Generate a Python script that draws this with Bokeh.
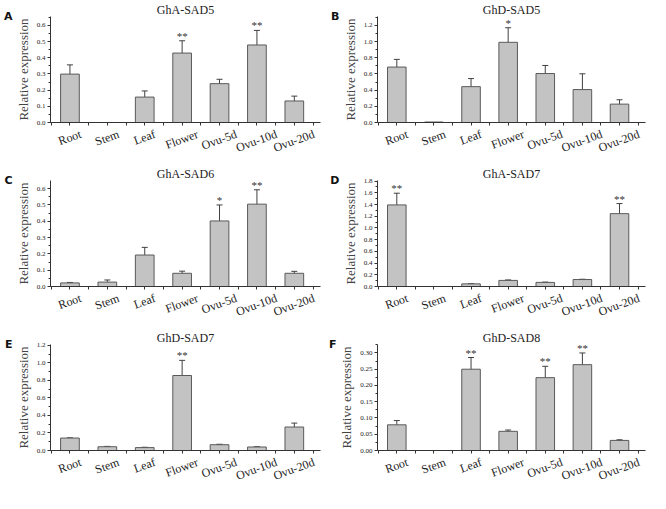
import math
from bokeh.plotting import figure
from bokeh.layouts import gridplot
from bokeh.models import (ColumnDataSource, Whisker, TeeHead, FixedTicker, LinearAxis,
                          SingleIntervalTicker, NumeralTickFormatter, Title, Range1d)
from bokeh.embed import file_html
from bokeh.resources import INLINE
from bokeh.core.properties import value

tissues = ["Root", "Stem", "Leaf", "Flower", "Ovu-5d", "Ovu-10d", "Ovu-20d"]

# A  GhA-SAD5
a_mean = [0.299, 0.0, 0.157, 0.429, 0.240, 0.479, 0.133]
a_err = [0.057, 0.0, 0.038, 0.076, 0.027, 0.090, 0.030]
a_sig = ["", "", "", "**", "", "**", ""]
# B  GhD-SAD5
b_mean = [0.685, 0.006, 0.443, 0.991, 0.605, 0.407, 0.227]
b_err = [0.095, 0.0, 0.100, 0.180, 0.100, 0.195, 0.054]
b_sig = ["", "", "", "*", "", "", ""]
# C  GhA-SAD6
c_mean = [0.022, 0.027, 0.193, 0.081, 0.402, 0.505, 0.081]
c_err = [0.003, 0.013, 0.047, 0.013, 0.098, 0.088, 0.012]
c_sig = ["", "", "", "", "*", "**", ""]
# D  GhA-SAD7
d_mean = [1.393, 0.0, 0.045, 0.104, 0.070, 0.119, 1.244]
d_err = [0.200, 0.0, 0.005, 0.008, 0.005, 0.005, 0.172]
d_sig = ["**", "", "", "", "", "", "**"]
# E  GhD-SAD7
e_mean = [0.142, 0.043, 0.033, 0.856, 0.066, 0.040, 0.268]
e_err = [0.002, 0.004, 0.004, 0.173, 0.005, 0.002, 0.045]
e_sig = ["", "", "", "**", "", "", ""]
# F  GhD-SAD8
f_mean = [0.079, 0.0, 0.250, 0.059, 0.224, 0.264, 0.031]
f_err = [0.013, 0.0, 0.036, 0.004, 0.035, 0.036, 0.002]
f_sig = ["", "", "**", "", "**", "**", ""]

panels = [
    ("A", "GhA-SAD5", a_mean, a_err, a_sig, 0.655, 0.1, "0.0"),
    ("B", "GhD-SAD5", b_mean, b_err, b_sig, 1.31, 0.2, "0.0"),
    ("C", "GhA-SAD6", c_mean, c_err, c_sig, 0.65, 0.1, "0.0"),
    ("D", "GhA-SAD7", d_mean, d_err, d_sig, 1.81, 0.2, "0.0"),
    ("E", "GhD-SAD7", e_mean, e_err, e_sig, 1.21, 0.2, "0.0"),
    ("F", "GhD-SAD8", f_mean, f_err, f_sig, 0.326, 0.05, "0.00"),
]

SERIF = "Liberation Serif"
AX = "#333333"
XMIN, XMAX = -0.52, 6.7
ANGLE = 0.35
LABEL_PX = 12
# Times/Liberation Serif advance widths (1/1000 em), used to centre the
# rotated category labels under their bars (Bokeh right-aligns them).
CW = {"R": 667, "o": 500, "t": 278, "S": 556, "e": 444, "m": 778, "L": 611,
      "a": 444, "f": 333, "F": 556, "l": 278, "w": 722, "r": 333, "O": 722,
      "v": 500, "u": 500, "-": 333, "d": 500}


def text_w(s):
    return sum(CW.get(c, 500) for c in s) / 1000.0 * LABEL_PX


def make_panel(letter, title, mean, err, sig, ymax, step, fmt):
    xs = list(range(len(tissues)))
    p = figure(width=325, height=164, output_backend="svg", toolbar_location=None,
               x_range=Range1d(XMIN, XMAX), y_range=Range1d(0, ymax),
               min_border_left=0, min_border_right=5, min_border_top=0,
               min_border_bottom=0)
    p.outline_line_color = None
    p.grid.visible = False
    p.background_fill_color = "white"

    t = Title(text=title, align="center", text_font=SERIF, text_font_size="12px",
              text_font_style="normal", text_color="#222222", standoff=0)
    p.add_layout(t, "above")

    src = ColumnDataSource(dict(x=xs, top=mean, name=tissues))
    p.vbar(x="x", top="top", width=0.5, source=src, fill_color="#c3c3c3",
           line_color="#5a5a5a", line_width=1)

    wx = [x for x, e in zip(xs, err) if e > 0]
    wl = [m - e for m, e in zip(mean, err) if e > 0]
    wu = [m + e for m, e in zip(mean, err) if e > 0]
    wsrc = ColumnDataSource(dict(x=wx, lower=wl, upper=wu))
    w = Whisker(base="x", lower="lower", upper="upper", source=wsrc,
                line_color="#404040", line_width=1,
                upper_head=TeeHead(size=6, line_color="#404040", line_width=1),
                lower_head=TeeHead(size=6, line_color="#404040", line_width=1))
    p.add_layout(w)

    sx = [x for x, s in zip(xs, sig) if s]
    sy = [m + e for m, e, s in zip(mean, err, sig) if s]
    st = [s for s in sig if s]
    ssrc = ColumnDataSource(dict(x=sx, y=sy, t=st))
    p.text(x="x", y="y", text="t", source=ssrc, text_align="center",
           text_baseline="bottom", y_offset=1, text_font=value(SERIF),
           text_font_size="11px", text_color="#333333")

    # x axis: tick marks at bar centres and midpoints (minor ticks); the
    # labelled major ticks are offset so that each rotated label is centred.
    frame_w = 325 - 44 - 5
    ppu = frame_w / (XMAX - XMIN)
    lab_pos = [x + text_w(n) * math.cos(ANGLE) / 2.0 / ppu for x, n in zip(xs, tissues)]
    p.xaxis.ticker = FixedTicker(ticks=lab_pos,
                                 minor_ticks=[k * 0.5 for k in range(-1, 14)])
    p.xaxis.major_label_overrides = {pos: n for pos, n in zip(lab_pos, tissues)}
    p.xaxis.major_label_orientation = ANGLE
    p.xaxis.major_label_text_font = SERIF
    p.xaxis.major_label_text_font_size = f"{LABEL_PX}px"
    p.xaxis.major_label_standoff = 8
    p.yaxis.ticker = SingleIntervalTicker(interval=step, num_minor_ticks=2)
    p.yaxis.formatter = NumeralTickFormatter(format=fmt)
    p.yaxis.major_label_text_font = SERIF
    p.yaxis.major_label_text_font_size = "7px"
    p.yaxis.major_label_standoff = 2
    p.yaxis.axis_label = "Relative expression"
    p.yaxis.axis_label_text_font = SERIF
    p.yaxis.axis_label_text_font_size = "13px"
    p.yaxis.axis_label_text_font_style = "normal"
    p.yaxis.axis_label_standoff = 3
    for ax in (p.xaxis, p.yaxis):
        ax.axis_line_color = AX
        ax.major_tick_line_color = AX
        ax.minor_tick_line_color = AX
        ax.major_tick_out = 3
        ax.major_tick_in = 0
        ax.minor_tick_out = 2
        ax.minor_tick_in = 0
        ax.major_label_text_color = "#222222"
    p.xaxis.major_tick_out = 0
    p.xaxis.major_tick_line_color = None
    p.xaxis.minor_tick_out = 3

    lax = LinearAxis(axis_label=letter, axis_label_orientation="horizontal",
                     axis_label_align="end",
                     axis_label_text_font="DejaVu Sans", axis_label_text_font_size="11px",
                     axis_label_text_font_style="bold", axis_label_text_color="#111111",
                     axis_label_standoff=0,
                     axis_line_color=None, major_tick_line_color=None,
                     minor_tick_line_color=None, major_label_text_font_size="0px",
                     ticker=FixedTicker(ticks=[]))
    p.add_layout(lax, "left")
    return p


figs = [make_panel(*cfg) for cfg in panels]
grid = gridplot([[figs[0], figs[1]], [figs[2], figs[3]], [figs[4], figs[5]]],
                toolbar_location=None)

open("out.html", "w").write(file_html(grid, INLINE))
